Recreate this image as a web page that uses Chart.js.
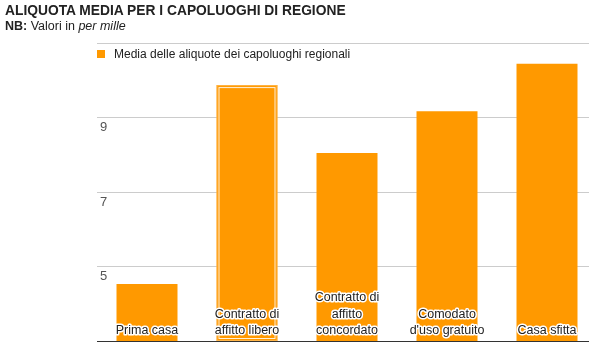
<!DOCTYPE html>
<html>
<head>
<meta charset="utf-8">
<script src="https://cdn.jsdelivr.net/npm/chart.js@4"></script>
<style>
  html, body { margin: 0; padding: 0; background: #fff; overflow: hidden; }
  body { width: 589px; height: 348px; position: relative; font-family: Arial, "Liberation Sans", sans-serif; }
  #titolo { position: absolute; left: 5px; top: 3px; font-size: 13.8px; font-weight: bold; color: #222; white-space: nowrap; }
  #sottotitolo { position: absolute; left: 5px; top: 19px; font-size: 12.5px; color: #222; white-space: nowrap; }
  #wrap { position: absolute; left: 0; top: 0; width: 600px; height: 348px; }
</style>
</head>
<body>
<div id="wrap"><canvas id="grafico"></canvas></div>
<div id="titolo">ALIQUOTA MEDIA PER I CAPOLUOGHI DI REGIONE</div>
<div id="sottotitolo"><b>NB:</b> Valori in <i>per mille</i></div>
<script>
const categorie = [
  ['Prima casa'],
  ['Contratto di', 'affitto libero'],
  ['Contratto di', 'affitto', 'concordato'],
  ['Comodato', "d'uso gratuito"],
  ['Casa sfitta']
];
const aliquote = [4.53, 9.87, 8.05, 9.17, 10.44];
const nomeSerie = 'Media delle aliquote dei capoluoghi regionali';
const tickY = [5, 7, 9];

const arancio = '#ff9900';
const barraEvidenziata = 1;
const FONT = 'Arial, "Liberation Sans", sans-serif';

// legenda disegnata dentro l'area del grafico, sotto la prima griglia
const legendaInterna = {
  id: 'legendaInterna',
  afterDraw(chart) {
    const ctx = chart.ctx;
    const a = chart.chartArea;
    const ds = chart.data.datasets[0];
    ctx.save();
    ctx.fillStyle = ds.backgroundColor;
    ctx.fillRect(a.left, a.top + 7, 8, 8);
    ctx.font = '12px ' + FONT;
    ctx.fillStyle = '#222';
    ctx.textAlign = 'left';
    ctx.textBaseline = 'middle';
    ctx.fillText(ds.label, a.left + 17, a.top + 11.5);
    ctx.restore();
  }
};

// etichette delle categorie scritte dentro le barre, in basso, con alone bianco
const etichetteInterne = {
  id: 'etichetteInterne',
  afterDraw(chart) {
    const ctx = chart.ctx;
    const meta = chart.getDatasetMeta(0);
    ctx.save();
    ctx.font = '12.5px ' + FONT;
    ctx.textAlign = 'center';
    ctx.textBaseline = 'alphabetic';
    ctx.lineJoin = 'round';
    meta.data.forEach((barra, i) => {
      const righe = categorie[i];
      const fondo = chart.chartArea.bottom - 7;
      righe.forEach((riga, k) => {
        const y = fondo - (righe.length - 1 - k) * 16.5;
        ctx.strokeStyle = '#ffffff';
        ctx.lineWidth = 3;
        ctx.strokeText(riga, barra.x, y);
        ctx.fillStyle = '#222222';
        ctx.fillText(riga, barra.x, y);
      });
    });
    ctx.restore();
  }
};

// anello chiaro sulla barra selezionata
const evidenzia = {
  id: 'evidenzia',
  afterDatasetsDraw(chart) {
    const barra = chart.getDatasetMeta(0).data[barraEvidenziata];
    if (!barra) return;
    const ctx = chart.ctx;
    const w = barra.width;
    const fondo = chart.chartArea.bottom;
    ctx.save();
    ctx.lineWidth = 1;
    ctx.strokeStyle = 'rgba(255,255,255,0.85)';
    ctx.strokeRect(barra.x - w / 2 + 2.5, barra.y + 2.5, w - 5, fondo - barra.y - 5);
    ctx.strokeStyle = 'rgba(255,200,120,0.6)';
    ctx.strokeRect(barra.x - w / 2 + 0.5, barra.y + 0.5, w - 1, fondo - barra.y - 1);
    ctx.restore();
  }
};

new Chart(document.getElementById('grafico'), {
  type: 'bar',
  data: {
    labels: categorie.map(r => r.join(' ')),
    datasets: [{
      label: nomeSerie,
      data: aliquote,
      backgroundColor: arancio,
      borderWidth: 0,
      barPercentage: 0.61,
      categoryPercentage: 1
    }]
  },
  options: {
    responsive: true,
    maintainAspectRatio: false,
    animation: false,
    layout: { padding: { left: 97, right: 3, top: 43, bottom: 7 } },
    plugins: {
      tooltip: { enabled: false },
      legend: { display: false }
    },
    scales: {
      x: {
        afterFit(scale) { scale.height = 0; scale.paddingLeft = 0; scale.paddingRight = 0; },
        grid: { display: false, drawTicks: false },
        border: { display: true, color: '#333', width: 1 },
        ticks: { display: false }
      },
      y: {
        min: 3,
        max: 11,
        afterFit(scale) { scale.width = 0; scale.paddingTop = 0; scale.paddingBottom = 0; },
        afterBuildTicks(scale) {
          scale.ticks = [3, ...tickY, 11].map(v => ({ value: v }));
        },
        grid: {
          drawTicks: false,
          color: ctx => (ctx.tick && ctx.tick.value === 3) ? 'rgba(0,0,0,0)' : '#cccccc'
        },
        border: { display: false },
        ticks: {
          mirror: true,
          padding: 3,
          labelOffset: 10,
          color: '#555',
          font: { family: FONT, size: 13 },
          callback: v => tickY.includes(v) ? String(v) : ''
        }
      }
    }
  },
  plugins: [evidenzia, etichetteInterne, legendaInterna]
});
</script>
</body>
</html>
